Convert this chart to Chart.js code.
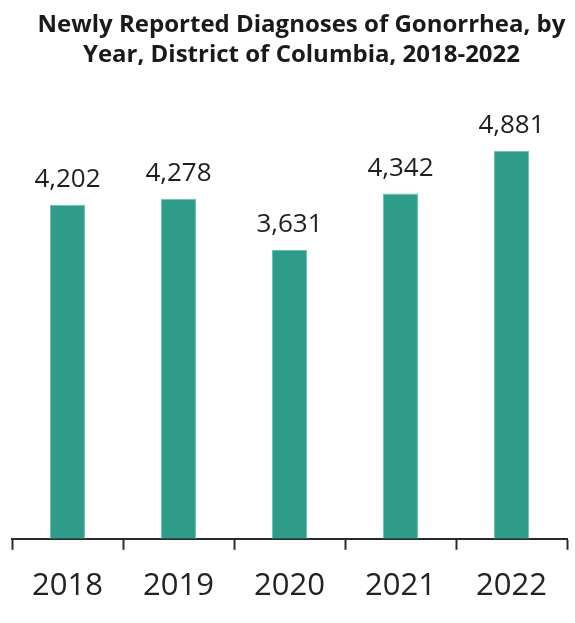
<!DOCTYPE html>
<html>
<head>
<meta charset="utf-8">
<script src="https://cdn.jsdelivr.net/npm/chart.js@4"></script>
<style>
  html, body { margin: 0; padding: 0; background: #ffffff; }
  #wrap { width: 575px; height: 623px; position: relative; }
</style>
</head>
<body>
<div id="wrap"><canvas id="chart"></canvas></div>
<script>
// Gonorrhea diagnoses reported in DC, by year
const years = ['2018', '2019', '2020', '2021', '2022'];
const diagnoses = [4202, 4278, 3631, 4342, 4881];
const titleLines = ['Newly Reported Diagnoses of Gonorrhea, by', 'Year, District of Columbia, 2018-2022'];

const BAR_COLOR = '#2E9C88';
const FONT = "'Open Sans', 'Noto Sans', sans-serif";

// Writes each bar's value just above it
const valueLabels = {
  id: 'valueLabels',
  afterDatasetsDraw(chart) {
    const ctx = chart.ctx;
    const meta = chart.getDatasetMeta(0);
    const values = chart.data.datasets[0].data;
    ctx.save();
    ctx.font = '26px ' + FONT;
    ctx.fillStyle = '#1f1f1f';
    ctx.textAlign = 'center';
    ctx.textBaseline = 'alphabetic';
    meta.data.forEach((bar, i) => {
      ctx.fillText(values[i].toLocaleString('en-US'), bar.x, bar.y - 18);
    });
    ctx.restore();
  }
};

// Nudges the title block a little to the right of centre
const titleOffset = {
  id: 'titleOffset',
  afterLayout(chart) {
    const t = chart.titleBlock;
    if (t) { t.left += 12; t.right += 12; }
  }
};

new Chart(document.getElementById('chart'), {
  type: 'bar',
  data: {
    labels: years,
    datasets: [{
      data: diagnoses,
      backgroundColor: BAR_COLOR,
      borderColor: '#6cc2af',
      borderWidth: 1,
      categoryPercentage: 1,
      barPercentage: 0.315
    }]
  },
  options: {
    responsive: true,
    maintainAspectRatio: false,
    animation: false,
    layout: { padding: { left: 12, right: 8, top: 0, bottom: 0 } },
    plugins: {
      legend: { display: false },
      tooltip: { enabled: false },
      title: {
        display: true,
        text: titleLines,
        color: '#1a1a1a',
        font: { family: FONT, size: 24, weight: 'bold', lineHeight: 1.25 },
        padding: { top: 10, bottom: 41 }
      }
    },
    scales: {
      x: {
        offset: true,
        border: { display: true, color: '#2b2b2b', width: 2 },
        grid: {
          offset: true,
          drawOnChartArea: false,
          drawTicks: true,
          tickLength: 11,
          tickWidth: 2,
          tickColor: '#2b2b2b'
        },
        ticks: {
          color: '#222222',
          padding: 18,
          font: { family: FONT, size: 31 }
        }
      },
      y: {
        display: false,
        min: 0,
        max: 5380
      }
    }
  },
  plugins: [valueLabels, titleOffset]
});
</script>
</body>
</html>
